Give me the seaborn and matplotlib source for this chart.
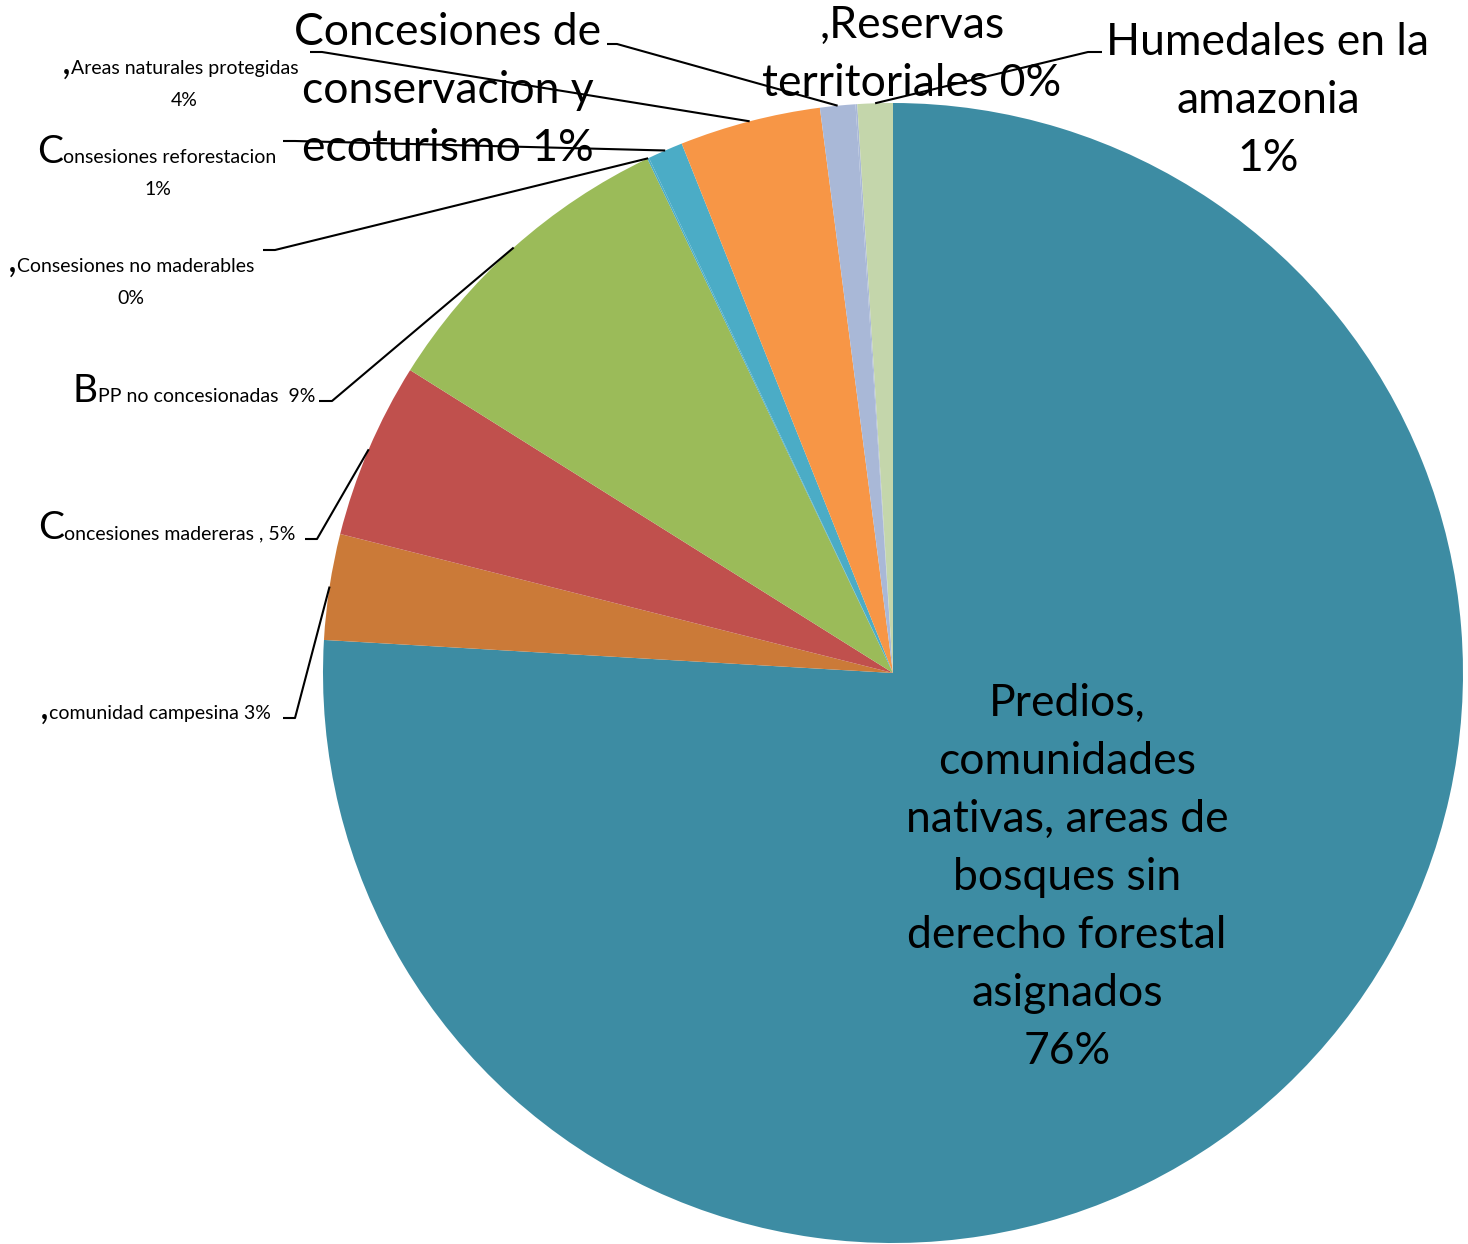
import matplotlib
matplotlib.use("Agg")
import matplotlib.pyplot as plt
import seaborn as sns
import numpy as np

# ---------------- data ----------------
categories = [
    "Predios, comunidades nativas, areas de bosques sin derecho forestal asignados",
    "comunidad campesina",
    "Concesiones madereras",
    "BPP no concesionadas",
    "Consesiones no maderables",
    "Consesiones reforestacion",
    "Areas naturales protegidas",
    "Concesiones de conservacion y ecoturismo",
    "Reservas territoriales",
    "Humedales en la amazonia",
]
values = [76, 3, 5, 9, 0.05, 1, 4, 1, 0.05, 1]
pct_labels = ["76%", "3%", "5%", "9%", "0%", "1%", "4%", "1%", "0%", "1%"]
colors = ["#3D8CA3", "#CB7A38", "#C0504D", "#9BBB59", "#4BACC6",
          "#4BACC6", "#F79646", "#A9B8D7", "#A9B8D7", "#C4D6AB"]

# ---------------- style ----------------
sns.set_theme(style="white")
plt.rcParams["font.family"] = ["Lato", "DejaVu Sans"]
plt.rcParams["text.color"] = "black"
palette = sns.color_palette(colors)

W, H = 1468, 1244
fig = plt.figure(figsize=(W / 100, H / 100), dpi=100)
ax = fig.add_axes([0, 0, 1, 1])

def Y(y):
    return H - y

CX, CY, R = 893, Y(673), 570
wedges, _ = ax.pie(values, colors=palette, startangle=90, counterclock=False,
                   center=(CX, CY), radius=R,
                   wedgeprops=dict(linewidth=0))
ax.set_xlim(0, W)
ax.set_ylim(0, H)
ax.set_aspect("equal")
ax.axis("off")

BIG = 32
CHAR = 28
SMALL = 14
LINE_H = 58

def edge_point(i):
    w = wedges[i]
    th = np.deg2rad((w.theta1 + w.theta2) / 2)
    return CX + R * np.cos(th), CY + R * np.sin(th)

def leader(i, x0, y0, x1, y1):
    px, py = edge_point(i)
    ax.plot([x0, x1, px], [Y(y0), Y(y1), py], color="black", lw=1.5,
            solid_capstyle="butt", zorder=5)

fig.canvas.draw()
renderer = fig.canvas.get_renderer()

def split_label(big_char, rest, x, base, pct=None, pct_x=None, pct_base=None):
    t = ax.text(x, Y(base), big_char, fontsize=CHAR, ha="left", va="baseline",
                color="black", zorder=6)
    bb = t.get_window_extent(renderer=renderer)
    x1 = ax.transData.inverted().transform((bb.x1, bb.y0))[0]
    ax.text(x1, Y(base), rest, fontsize=SMALL, ha="left", va="baseline",
            color="black", zorder=6)
    if pct is not None:
        ax.text(pct_x, Y(pct_base), pct, fontsize=SMALL, ha="center",
                va="baseline", color="black", zorder=6)

def block_label(lines, xc, first_base, size=BIG):
    for k, line in enumerate(lines):
        ax.text(xc, Y(first_base + k * LINE_H), line, fontsize=size,
                ha="center", va="baseline", color="black", zorder=6)

# left side small labels with big first letter
split_label(",", "comunidad campesina " + pct_labels[1], 40, 719)
leader(1, 283, 718, 295, 718)

split_label("C", "oncesiones madereras , " + pct_labels[2], 38, 539)
leader(2, 305, 539, 317, 539)

split_label("B", "PP no concesionadas  " + pct_labels[3], 73, 402)
leader(3, 319, 401, 332, 401)

split_label(",", "Consesiones no maderables", 8, 272, pct_labels[4], 131, 304)
leader(4, 263, 250, 275, 250)

split_label("C", "onsesiones reforestacion", 37, 163, pct_labels[5], 158, 195)
leader(5, 283, 141, 295, 141)

split_label(",", "Areas naturales protegidas", 62, 74, pct_labels[6], 184, 106)
leader(6, 310, 52, 322, 52)

# top big labels
block_label(["Concesiones de", "conservacion y", "ecoturismo " + pct_labels[7]], 448, 45)
leader(7, 607, 44, 617, 44)

block_label([",Reservas", "territoriales " + pct_labels[8]], 912, 38)

block_label(["Humedales en la", "amazonia", pct_labels[9]], 1268, 55)
leader(9, 1102, 52, 1088, 52)

# inside label
block_label(["Predios,", "comunidades", "nativas, areas de", "bosques sin",
             "derecho forestal", "asignados", pct_labels[0]], 1067, 716)

fig.savefig("out.png", dpi=100, facecolor="white")
